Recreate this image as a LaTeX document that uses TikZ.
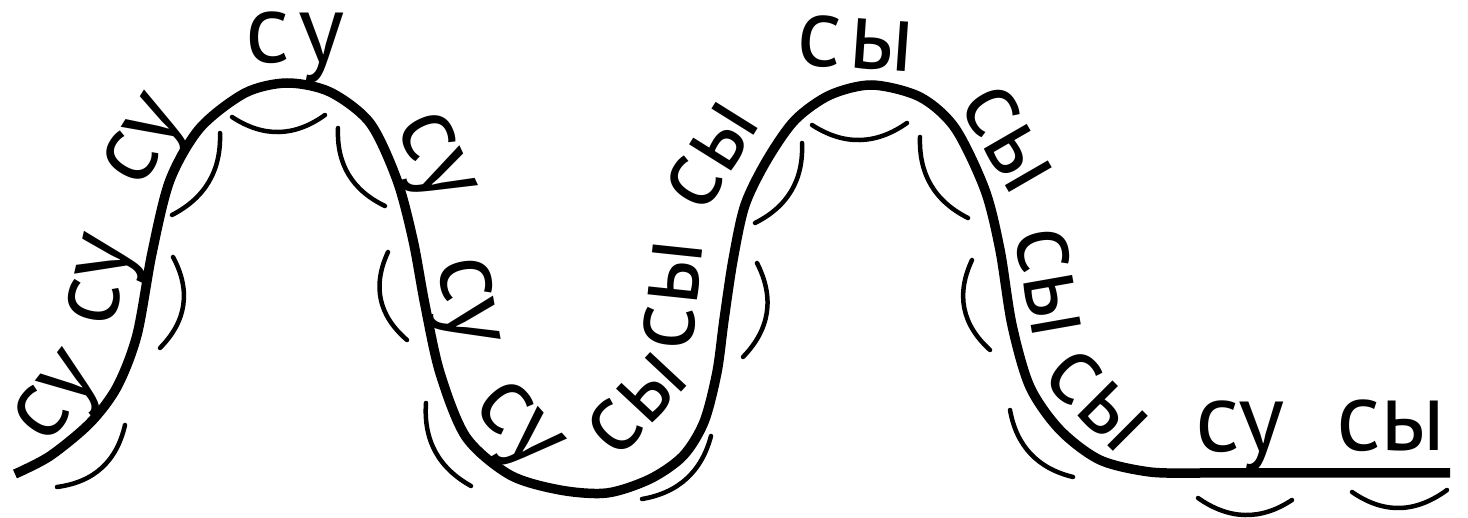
\documentclass[tikz,border=0pt]{standalone}
\usepackage{fontspec}
\setmainfont{PT Sans}
\begin{document}
\tikzset{
  syl/.style={font=\fontsize{99}{100}\selectfont, inner sep=0pt, text height=49pt, text depth=0pt, anchor=center},
  wave/.style={line width=9.5pt, line join=round},
  markarc/.style={line width=4.5pt, line cap=round}
}
\begin{tikzpicture}[x=1pt,y=-1pt]
\useasboundingbox (0,0) rectangle (1468,518);
% main wave
\draw[wave] plot[smooth, tension=0.5] coordinates {
 (15,474) (50,456) (90,423) (117,387) (137,335) (152,253) (170,180) (200,128)
 (245,93) (287,83) (330,92) (370,123) (397,180) (413,240) (425,305) (440,373)
 (466,437) (510,475) (560,490) (607,493) (650,479) (683,456) (704,422) (717,372)
 (724,320) (733,260) (745,205) (767,160) (795,120) (830,95) (872,85) (920,97)
 (955,128) (985,190) (1000,250) (1012,325) (1030,387) (1060,430) (1100,460)
 (1150,472) (1200,473)}
 -- (1450,473);
% syllables
\node[syl, rotate=52] (l1) at (55,396) {су};
\node[syl, rotate=77] (l2) at (99,280) {су};
\node[syl, rotate=58] (l3) at (142,140) {су};
\node[syl] (l4) at (295,38) {с\kern8pt у};
\node[syl, rotate=-65] (l5) at (437,156) {су};
\node[syl, rotate=-80] (l6) at (469,301) {су};
\node[syl, rotate=-48] (l7) at (520,423) {су};
\node[syl, rotate=47] (l8) at (637,404) {сы};
\node[syl, rotate=84] (l9) at (673,295) {сы};
\node[syl, rotate=58] (l10) at (712,156) {сы};
\node[syl, rotate=-4] (l11) at (856,44) {с\kern8pt ы};
\node[syl, rotate=-60] (l12) at (1007,139) {сы};
\node[syl, rotate=-80] (l13) at (1048,282) {сы};
\node[syl, rotate=-45] (l14) at (1097,400) {сы};
\node[syl] (l15) at (1240,427) {су};
\node[syl] (l16) at (1391,426) {сы};
% syllable arcs
\draw[markarc] (125,425) .. controls (116.7,461.4) and (94.1,482.1) .. (57,487);
\draw[markarc] (173,257) .. controls (191.1,290.5) and (186.7,320.9) .. (160,348);
\draw[markarc] (220,133) .. controls (221.3,170.5) and (205.3,197.8) .. (172,215);
\draw[markarc] (232,117) .. controls (263.4,137.7) and (294.4,137) .. (325,115);
\draw[markarc] (338,128) .. controls (336.5,164.3) and (352.2,190.3) .. (385,206);
\draw[markarc] (388,252) .. controls (372.1,286.1) and (378.5,315.5) .. (407,340);
\draw[markarc] (426,403) .. controls (423.4,440.2) and (438.4,467.9) .. (471,486);
\draw[markarc] (711,436) .. controls (701.5,471.8) and (678.5,492.8) .. (642,499);
\draw[markarc] (757,263) .. controls (774.7,297.7) and (770.1,329) .. (743,357);
\draw[markarc] (802,143) .. controls (803.6,179.8) and (787.9,206.5) .. (755,223);
\draw[markarc] (812,125) .. controls (844.1,145.7) and (875.7,145) .. (907,123);
\draw[markarc] (920,137) .. controls (918.7,174.2) and (934.7,201.2) .. (968,218);
\draw[markarc] (972,260) .. controls (955.8,294.5) and (961.8,324.5) .. (990,350);
\draw[markarc] (1010,410) .. controls (1016.5,446.1) and (1037.5,468.4) .. (1073,477);
\draw[markarc] (1198,498) .. controls (1229.3,520) and (1260.7,520.7) .. (1292,500);
\draw[markarc] (1352,492) .. controls (1383.7,514) and (1415.3,513.3) .. (1447,490);
\end{tikzpicture}
\end{document}
